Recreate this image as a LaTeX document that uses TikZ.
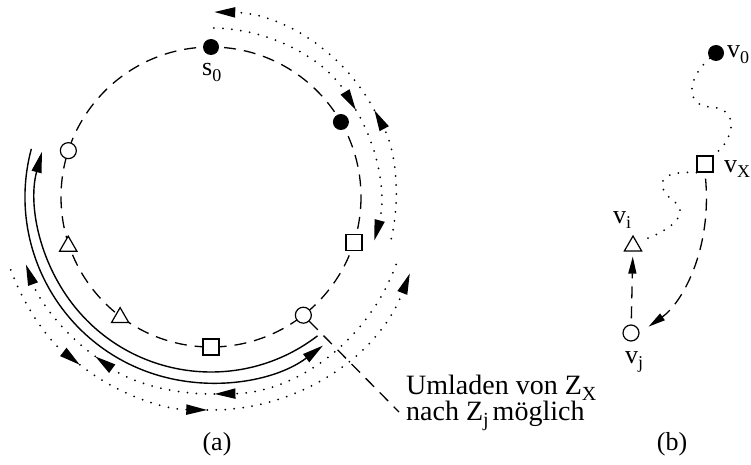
\documentclass[tikz,border=0pt]{standalone}
\usepackage{fontspec}
\setmainfont{Liberation Serif}
\usetikzlibrary{arrows.meta,shapes.geometric}
\newcommand\lsub[1]{\raisebox{-5.5pt}{\fontsize{18}{18}\selectfont #1}}
\newcommand\bsub[1]{\raisebox{-5.5pt}{\fontsize{20}{20}\selectfont #1}}
\begin{document}
\begin{tikzpicture}[x=1pt,y=-1pt,
  dashln/.style={line width=1.3pt, dash pattern=on 12pt off 8pt},
  dotln/.style={line width=2pt, line cap=round, dash pattern=on 0pt off 9pt},
  solidln/.style={line width=1.4pt},
  tip/.style={-{Triangle[length=21pt,width=10pt]}},
  btip/.style={-{Triangle[length=17pt,width=8pt]}},
  fdot/.style={circle, fill=black, minimum size=16pt, inner sep=0pt},
  odot/.style={circle, draw, fill=white, line width=1.2pt, minimum size=16pt, inner sep=0pt},
  osq/.style={rectangle, draw, fill=white, line width=1.2pt, minimum size=16pt, inner sep=0pt},
  otri/.style={regular polygon, regular polygon sides=3, draw, fill=white, line width=1.2pt, minimum size=20pt, inner sep=0pt},
  lbl/.style={font=\fontsize{26}{26}\selectfont, inner sep=0pt, anchor=base west},
  clbl/.style={font=\fontsize{26}{26}\selectfont, inner sep=0pt, anchor=base},
  nlbl/.style={font=\fontsize{28}{26}\selectfont, inner sep=0pt, anchor=north west, align=left},
]
\useasboundingbox (0,0) rectangle (751,465);
\coordinate (C) at (211,197);
% dashed tour circle
\draw[dashln] (C) circle[radius=150];

% upper right dotted arcs
\draw[dotln, tip] ([shift={(-89:169)}]C) arc[start angle=-89, end angle=-31, radius=169];
\draw[dotln, tip] ([shift={(-31:169)}]C) arc[start angle=-31, end angle=15, radius=169];
\draw[dotln, tip] ([shift={(13:185)}]C) arc[start angle=13, end angle=-28, radius=185];
\draw[dotln, tip] ([shift={(-28:185)}]C) arc[start angle=-28, end angle=-89, radius=185];

% lower dotted arcs
\draw[dotln, tip] ([shift={(20:197)}]C) arc[start angle=20, end angle=89, radius=197];
\draw[dotln, tip] ([shift={(89:197)}]C) arc[start angle=89, end angle=126, radius=197];
\draw[dotln, tip] ([shift={(126:197)}]C) arc[start angle=126, end angle=160, radius=197];
\draw[dotln, tip] ([shift={(160:213)}]C) arc[start angle=160, end angle=128, radius=213];
\draw[dotln, tip] ([shift={(128:213)}]C) arc[start angle=128, end angle=91, radius=213];
\draw[dotln, tip] ([shift={(91:213)}]C) arc[start angle=91, end angle=21, radius=213];

% solid arcs
\draw[solidln, tip] ([shift={(52.5:175)}]C) arc[start angle=52.5, end angle=195, radius=175];
\draw[solidln, tip] ([shift={(195:186)}]C) arc[start angle=195, end angle=53, radius=186];

% nodes on the circle
\node[fdot] (s0) at ([shift={(-90:150)}]C) {};
\node[fdot] (p1) at ([shift={(-30:150)}]C) {};
\node[osq]  (q1) at ([shift={(17.5:150)}]C) {};
\node[odot] (c1) at ([shift={(52:150)}]C) {};
\node[osq]  (q2) at ([shift={(90:150)}]C) {};
\node[otri] (t1) at ([shift={(127:151)}]C) {};
\node[otri] (t2) at ([shift={(161:151)}]C) {};
\node[odot] (c2) at ([shift={(-162:150)}]C) {};

\node[lbl] (ls0) at (202,76) {s\lsub{0}};

% annotation
\coordinate (lend) at (399,412);
\draw[dashln] (c1) -- (lend);
\node[nlbl] (u1) at (406,375) {Umladen von Z\bsub{X}\\nach Z\bsub{j}\kern4pt möglich};
\node[clbl] (la) at (217,450) {(a)};

% part (b)
\node[fdot] (v0) at (716,53) {};
\node[osq]  (vx) at (705,164) {};
\node[otri] (vi) at (633,246) {};
\node[odot] (vj) at (631,333) {};

\draw[dotln, shorten >=6pt] (v0) .. controls (685,80) and (686,107) .. (712,107)
   .. controls (740,110) and (733,138) .. (vx.north east);
\draw[dotln, shorten >=3pt] (vx.south west) .. controls (655,170) and (655,188) .. (676,203)
   .. controls (690,215) and (668,232) .. (vi.north east);
\draw[dashln, btip, shorten <=6pt, shorten >=5pt] (vj) -- (vi);
\draw[dashln, btip, shorten <=6pt, shorten >=11pt] (vx.south) .. controls (712,250) and (682,303) .. (vj.east);

\node[lbl] (lv0) at (727,58) {v\lsub{0}};
\node[lbl] (lvx) at (724,172) {v\lsub{X}};
\node[lbl] (lvi) at (613,223) {v\lsub{i}};
\node[lbl] (lvj) at (625,363) {v\lsub{j}};
\node[clbl] (lb) at (672,450) {(b)};
\end{tikzpicture}
\end{document}
